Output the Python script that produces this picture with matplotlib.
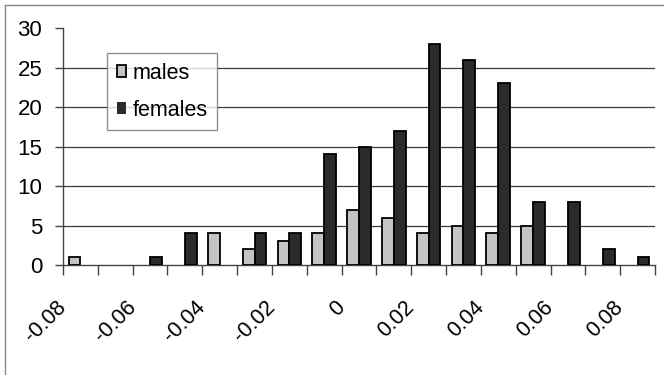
import matplotlib
matplotlib.use("Agg")
import matplotlib.pyplot as plt
import matplotlib.transforms as mtransforms
from matplotlib.lines import Line2D
import numpy as np

plt.rcParams['font.family'] = ['Liberation Sans', 'DejaVu Sans']

# Histogram bins (class midpoints) and counts per group
bins = ["-0.08", "-0.07", "-0.06", "-0.05", "-0.04", "-0.03", "-0.02", "-0.01",
        "0", "0.01", "0.02", "0.03", "0.04", "0.05", "0.06", "0.07", "0.08"]
males = [1, 0, 0, 0, 4, 2, 3, 4, 7, 6, 4, 5, 4, 5, 0, 0, 0]
females = [0, 0, 1, 4, 0, 4, 4, 14, 15, 17, 28, 26, 23, 8, 8, 2, 1]
y_ticks = [0, 5, 10, 15, 20, 25, 30]

fig = plt.figure(figsize=(6.64, 3.75), dpi=100)
ax = fig.add_axes([0.0949, 0.2933, 0.8915, 0.632])

x = np.arange(len(bins))
w = 0.34
ax.bar(x - w / 2, males, width=w, color="#c4c4c4", edgecolor="black",
       linewidth=[1.3 if v > 0 else 0 for v in males], label="males", zorder=3)
ax.bar(x + w / 2, females, width=w, color="#2b2b2b", edgecolor="black",
       linewidth=[1.3 if v > 0 else 0 for v in females], label="females", zorder=3)

ax.set_xlim(-0.5, len(bins) - 0.5)
ax.set_ylim(0, 30)
ax.set_yticks(y_ticks)
ax.set_yticklabels([str(v) for v in y_ticks], fontsize=16)
ax.tick_params(axis='y', length=6, width=1, pad=9, color="#444444")

# category boundaries carry the tick marks, every second bin carries a label
ax.set_xticks(np.arange(-0.5, len(bins)), minor=True)
ax.set_xticks(x[::2])
ax.set_xticklabels(bins[::2], fontsize=15.5, rotation=45, ha='right', va='top')
ax.tick_params(axis='x', which='minor', length=7, width=1, color="#444444")
ax.tick_params(axis='x', which='major', length=0, pad=23)
shift = mtransforms.ScaledTranslation(-10 / 100, 0, fig.dpi_scale_trans)
for lab in ax.get_xticklabels():
    lab.set_transform(lab.get_transform() + shift)

for s in ("top", "right"):
    ax.spines[s].set_visible(False)
for s in ("left", "bottom"):
    ax.spines[s].set_color("#444444")
    ax.spines[s].set_linewidth(1)

for v in y_ticks[1:-1]:
    ax.axhline(v, color="#3a3a3a", linewidth=0.9, zorder=1)

ax.legend(loc='upper left', bbox_to_anchor=(0.074, 0.895), borderaxespad=0,
          fontsize=15.5, frameon=True, fancybox=False, edgecolor="#777777",
          handlelength=0.45, handleheight=0.45, handletextpad=0.3,
          labelspacing=0.75, borderpad=0.45)

# outer chart frame (top and left edges)
fig.add_artist(Line2D([0.008, 1.0], [0.987, 0.987], color="#888888", linewidth=1,
                      transform=fig.transFigure))
fig.add_artist(Line2D([0.008, 0.008], [0.0, 0.987], color="#888888", linewidth=1,
                      transform=fig.transFigure))

fig.savefig("out.png", dpi=100)
